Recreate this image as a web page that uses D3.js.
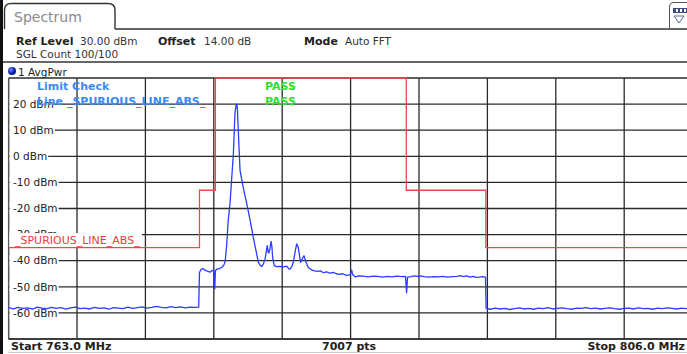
<!DOCTYPE html>
<html><head><meta charset="utf-8">
<script src="https://cdn.jsdelivr.net/npm/d3@7"></script>
<style>
html,body{margin:0;padding:0;background:#fff;}
svg{display:block;font-family:"DejaVu Sans",Verdana,sans-serif;}
</style></head>
<body>
<svg id="c" width="687" height="354"></svg>
<script>
// ---------- data ----------
const freqDomain = [763.0, 806.0];          // MHz
const levelDomain = [-70, 30];              // dBm
const levelTicks = [20, 10, 0, -10, -20, -30, -40, -50, -60];
const freqGrid = [763, 767.3, 771.6, 775.9, 780.2, 784.5, 788.8, 793.1, 797.4, 801.7, 806];
const limitName = "_SPURIOUS_LINE_ABS_";
const limitFreq  = [763, 775, 775, 776, 776, 788, 788, 793, 793, 806];
const limitLevel = [-35, -35, -13, -13, 30, 30, -13, -13, -35, -35];
const headerLabels = ["Ref Level", "Offset", "Mode"];
const headerValues = ["30.00 dBm", "14.00 dB", "Auto FFT"];
const traceFreq = [
 763.0,763.3,763.6,763.9,764.2,764.5,764.8,765.1,765.4,765.7,766.0,766.3,766.6,766.9,767.2,767.5,767.8,768.1,768.4,768.7,
 769.0,769.3,769.6,769.9,770.2,770.5,770.8,771.1,771.4,771.7,772.0,772.3,772.6,772.9,773.2,773.5,773.8,774.1,774.4,774.7,774.95,
 775.0,775.1,775.2,775.35,775.5,775.66,775.8,775.9,775.96,776.0,776.08,776.25,776.4,776.55,776.62,776.71,776.8,776.92,777.03,777.13,
 777.23,777.3,777.34,777.38,777.42,777.48,777.55,777.75,777.97,778.2,778.38,778.55,778.7,778.82,778.91,779.0,779.12,779.2,779.26,779.32,
 779.37,779.44,779.5,779.55,779.6,779.7,779.85,780.06,780.3,780.48,780.6,780.69,780.8,780.9,781.0,781.11,781.21,781.3,781.36,781.47,
 781.57,781.7,781.84,782.0,782.16,782.4,782.6,782.8,783.0,783.2,783.4,783.6,783.8,784.0,784.25,784.45,784.52,784.57,784.62,784.78,
 785.0,785.3,785.6,785.9,786.2,786.5,786.8,787.1,787.4,787.7,787.95,788.02,788.08,788.3,788.5,788.7,788.9,789.1,789.4,789.7,
 790.0,790.3,790.6,790.9,791.2,791.4,791.6,791.8,792.0,792.2,792.4,792.6,792.8,792.98,
 793.02,793.3,793.6,793.9,794.2,794.5,794.8,795.1,795.4,795.7,796.0,796.3,796.6,796.9,797.2,797.5,797.8,798.1,798.4,798.7,
 799.0,799.3,799.6,799.9,800.2,800.5,800.8,801.1,801.4,801.7,802.0,802.3,802.6,802.9,803.2,803.5,803.8,804.1,804.4,804.7,805.0,805.3,805.6,806.0
];
const traceLevel = [
 -58.0,-58.5,-57.9,-58.3,-58.1,-58.6,-57.8,-58.2,-58.4,-57.9,-58.3,-58.0,-58.6,-58.1,-57.8,-58.4,-58.2,-58.5,-57.9,-58.3,
 -58.1,-58.6,-58.0,-58.2,-58.4,-57.8,-58.3,-58.0,-57.7,-58.2,-57.9,-57.5,-57.9,-58.1,-57.6,-58.0,-57.7,-58.1,-57.8,-57.9,-57.8,
 -44.5,-43.3,-43.0,-43.6,-44.0,-44.4,-43.8,-43.5,-50.8,-44.0,-43.2,-43.0,-42.6,-41.5,-40.0,-34,-25,-18,-8,1,
 16.5,19.5,20.0,18.5,13,4,-5.4,-12,-18,-25,-31,-36,-40.6,-41.8,-42.2,-41.5,-39.4,-36.5,-34.2,-36.8,
 -37.0,-35,-32.6,-34.5,-38.7,-41.9,-42.3,-42.2,-42.4,-42.1,-43.0,-43.2,-42.3,-40.6,-37,-33.6,-34.9,-38.5,-40.6,-39.2,
 -38.1,-40.6,-42.6,-43.3,-43.8,-44.1,-43.9,-44.6,-44.3,-44.8,-44.5,-45.0,-45.2,-45.0,-45.6,-45.4,-44.6,-43.6,-45.2,-46.2,
 -45.8,-45.9,-46.2,-45.9,-46.0,-46.3,-46.0,-46.2,-45.9,-46.1,-46.0,-52.3,-46.3,-46.1,-45.8,-46.0,-45.8,-46.1,-46.3,-46.1,
 -46.2,-46.0,-46.3,-46.1,-46.0,-45.7,-46.1,-45.8,-46.3,-46.0,-46.4,-46.3,-46.1,-46.3,
 -58.3,-58.6,-58.2,-58.5,-58.3,-58.7,-58.4,-58.1,-58.5,-58.3,-58.6,-58.2,-58.4,-58.0,-58.5,-58.3,-58.1,-58.4,-58.6,-58.2,
 -58.3,-58.0,-58.4,-58.2,-58.5,-58.3,-58.1,-58.4,-58.6,-58.3,-58.2,-58.5,-58.1,-58.4,-58.3,-58.6,-58.2,-58.4,-58.1,-58.3,-58.5,-58.2,-58.4,-58.3
];

// ---------- layout ----------
const svg = d3.select("#c");
const W = 687, H = 354;
const plot = {left: 8.6, top: 78, right: 692.6, bottom: 339};
const x = d3.scaleLinear().domain(freqDomain).range([plot.left, plot.right]);
const y = d3.scaleLinear().domain(levelDomain).range([plot.bottom, plot.top]);
const gridCol = "#2a2a2a";
const FS = 10.5;

// left window edge
svg.append("rect").attr("x",0).attr("y",0).attr("width",3).attr("height",H).attr("fill","#111");

// tab
svg.append("path")
  .attr("d","M4.5,29 L4.5,10 Q4.5,3.5 11,3.5 L108,3.5 Q115,3.5 115,10 L115,29")
  .attr("fill","#fff").attr("stroke","#333").attr("stroke-width",1.4);
svg.append("text").attr("x",14).attr("y",22).attr("font-size",14).attr("fill","#8a8a8a").text("Spectrum");
// header lines
svg.append("line").attr("x1",115).attr("x2",W).attr("y1",29).attr("y2",29).attr("stroke","#333").attr("stroke-width",1.6);
svg.append("line").attr("x1",3).attr("x2",W).attr("y1",62).attr("y2",62).attr("stroke","#333").attr("stroke-width",1.6);
// top-right icon
const ic = svg.append("g");
ic.append("path").attr("d","M669.5,28 L669.5,7 Q669.5,2.5 674,2.5 L690,2.5 L690,28").attr("fill","#fff").attr("stroke","#555").attr("stroke-width",1);
ic.append("rect").attr("x",673).attr("y",8).attr("width",15).attr("height",5).attr("fill","#3c4c80");
[676,680,684].forEach(px=>ic.append("rect").attr("x",px).attr("y",9).attr("width",2).attr("height",3).attr("fill","#fff"));
ic.append("path").attr("d","M674,16 L684,16 L679,23 Z").attr("fill","none").attr("stroke","#5a6a90").attr("stroke-width",1);

// header texts
const hx = [[16,80],[158,204],[304,345]];
headerLabels.forEach((l,i)=>{
  svg.append("text").attr("x",hx[i][0]).attr("y",45).attr("font-size",11).attr("font-weight","bold").attr("fill","#222").text(l);
  svg.append("text").attr("x",hx[i][1]).attr("y",45).attr("font-size",FS).attr("fill","#333").text(headerValues[i]);
});
svg.append("text").attr("x",16).attr("y",58).attr("font-size",FS).attr("fill","#333").text("SGL Count 100/100");

// trace label row
const defs = svg.append("defs");
const grad = defs.append("radialGradient").attr("id","dot").attr("cx","35%").attr("cy","35%");
grad.append("stop").attr("offset","0%").attr("stop-color","#6a8cff");
grad.append("stop").attr("offset","100%").attr("stop-color","#0a1aa0");
svg.append("circle").attr("cx",12).attr("cy",71).attr("r",4).attr("fill","url(#dot)");
svg.append("text").attr("x",18).attr("y",75.5).attr("font-size",FS).attr("fill","#222").text("1 AvgPwr");

// clip
defs.append("clipPath").attr("id","pc").append("rect")
  .attr("x",plot.left).attr("y",plot.top-1).attr("width",plot.right-plot.left).attr("height",plot.bottom-plot.top+2);

const g = svg.append("g");
// grid
g.append("g").selectAll("line").data(d3.range(-70,31,10)).join("line")
  .attr("x1",plot.left).attr("x2",plot.right).attr("y1",d=>y(d)).attr("y2",d=>y(d))
  .attr("stroke",gridCol).attr("stroke-width",1.3);
g.append("g").selectAll("line").data(freqGrid).join("line")
  .attr("x1",d=>x(d)).attr("x2",d=>x(d)).attr("y1",plot.top).attr("y2",plot.bottom)
  .attr("stroke",gridCol).attr("stroke-width",1.3);
// frame
g.append("line").attr("x1",plot.left).attr("x2",plot.left).attr("y1",plot.top).attr("y2",plot.bottom).attr("stroke","#555").attr("stroke-width",1.2);

// y labels with white backing
const yl = g.append("g");
levelTicks.forEach(v=>{
  const lg = yl.append("g");
  const bgR = lg.append("rect").attr("fill","#fff");
  const t = lg.append("text").attr("x",13).attr("y",y(v)).attr("dy","0.36em").attr("font-size",FS).attr("fill","#222").text(v+" dBm");
  const bb = t.node().getBBox();
  bgR.attr("x",plot.left+1).attr("y",bb.y+1).attr("width",bb.x+bb.width-plot.left).attr("height",bb.height-2);
});

// limit label (white box covers the -30 grid line, as in the instrument display)
const llg = g.append("g");
const lbg = llg.append("rect").attr("fill","#fff");
const lt = llg.append("text").attr("x",15).attr("y",y(-35)-3.5).attr("font-size",11).attr("fill","#f03a3a").text(limitName);
const lbb = lt.node().getBBox();
lbg.attr("x",plot.left+0.8).attr("y",y(-30)-1.5).attr("width",lbb.x+lbb.width-plot.left+1).attr("height",y(-35)-y(-30)+1.5);

// limit line
g.append("path").attr("clip-path","url(#pc)")
  .datum(limitFreq.map((f,i)=>[f,limitLevel[i]]))
  .attr("d",d3.line().x(d=>x(d[0])).y(d=>y(d[1])))
  .attr("fill","none").attr("stroke","#f04848").attr("stroke-width",1.3);

// trace
g.append("path").attr("clip-path","url(#pc)")
  .datum(traceFreq.map((f,i)=>[f,traceLevel[i]]))
  .attr("d",d3.line().x(d=>x(d[0])).y(d=>y(d[1])))
  .attr("fill","none").attr("stroke","#2a3cff").attr("stroke-width",1.3).attr("stroke-linejoin","round");

// limit check texts
g.append("text").attr("x",37).attr("y",90).attr("font-size",11).attr("font-weight","bold").attr("fill","#3a8af5").text("Limit Check");
g.append("text").attr("x",37).attr("y",105).attr("font-size",11).attr("font-weight","bold").attr("fill","#3a8af5").text("Line "+limitName);
g.append("text").attr("x",265).attr("y",90).attr("font-size",11).attr("font-weight","bold").attr("fill","#2ee02e").text("PASS");
g.append("text").attr("x",265).attr("y",105).attr("font-size",11).attr("font-weight","bold").attr("fill","#2ee02e").text("PASS");

// bottom
svg.append("line").attr("x1",plot.left).attr("x2",W).attr("y1",plot.bottom).attr("y2",plot.bottom).attr("stroke","#333").attr("stroke-width",1.3);
svg.append("line").attr("x1",plot.left).attr("x2",W).attr("y1",352.5).attr("y2",352.5).attr("stroke","#ccc").attr("stroke-width",1);
svg.append("text").attr("x",11).attr("y",350).attr("font-size",11).attr("font-weight","bold").attr("fill","#222").text("Start "+freqDomain[0].toFixed(1)+" MHz");
svg.append("text").attr("x",322).attr("y",350).attr("font-size",11).attr("font-weight","bold").attr("fill","#222").text("7007 pts");
svg.append("text").attr("x",685).attr("y",350).attr("text-anchor","end").attr("font-size",11).attr("font-weight","bold").attr("fill","#222").text("Stop "+freqDomain[1].toFixed(1)+" MHz");
</script>
</body></html>
